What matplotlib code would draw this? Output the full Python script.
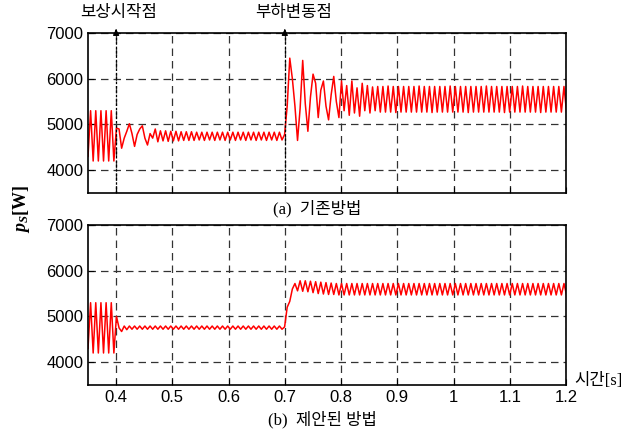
import numpy as np
import matplotlib
matplotlib.use("Agg")
import matplotlib.pyplot as plt

plt.rcParams['font.family'] = ['Liberation Sans', 'Noto Sans CJK KR', 'DejaVu Sans']
plt.rcParams['mathtext.fontset'] = 'custom'
plt.rcParams['mathtext.it'] = 'Liberation Serif:italic:bold'
plt.rcParams['mathtext.rm'] = 'Liberation Serif:bold'

# sample step (half period of the ~108 Hz ripple), start time
t0 = 0.35
dt = 0.0046

# ---- (a) conventional method: p_S [W] ----
before_comp = [4300, 5300, 4200, 5300, 4200, 5300, 4200, 5300, 4200, 5300, 4200]

a_comp_start = [4920, 4900, 4480, 4700, 4850, 5015, 4800, 4520, 4780, 4900,
                4970, 4700, 4550, 4800, 4700, 4900, 4620, 4860, 4640]

a_ripple = [4860, 4630, 4850, 4640, 4850, 4640, 4840, 4650, 4840, 4650,
            4840, 4650, 4830, 4660, 4830, 4650, 4830, 4660, 4830, 4650,
            4830, 4660, 4830, 4650, 4830, 4660, 4830, 4650, 4830, 4660,
            4830, 4650, 4830, 4660, 4830, 4650, 4830, 4660, 4830, 4650,
            4830, 4660, 4830, 4650, 4830, 4660]

a_load_step = [4780, 5400, 6450, 6000, 5400, 4650, 5350, 6400, 5450, 4850,
               5600, 6100, 5900, 5150, 5750, 5950, 5400, 5100, 5650, 6050,
               5500, 5150, 5950, 5300, 5850, 5200, 5950, 5250, 5800, 5180,
               5900, 5300, 5850, 5250, 5820, 5300]

a_steady = [5830, 5270, 5830, 5270, 5840, 5270, 5830, 5260, 5830, 5270,
            5830, 5270, 5830, 5270, 5830, 5270, 5840, 5270, 5830, 5270,
            5830, 5260, 5830, 5270, 5830, 5270, 5830, 5270, 5840, 5270,
            5830, 5270, 5830, 5270, 5830, 5260, 5830, 5270, 5830, 5270,
            5830, 5270, 5840, 5270, 5830, 5270, 5830, 5270, 5830, 5260,
            5830, 5270, 5830, 5270, 5830, 5270, 5840, 5270, 5830, 5270,
            5830, 5270, 5830, 5260, 5830, 5270, 5830, 5270, 5830, 5270,
            5830, 5270, 5830, 5270]

# ---- (b) proposed method: p_S [W] ----
b_comp_start = [5000, 4750, 4670, 4790, 4710, 4790]

b_ripple = [4720, 4790, 4720, 4790, 4720, 4790, 4720, 4790, 4720, 4790,
            4720, 4790, 4720, 4790, 4720, 4790, 4720, 4790, 4720, 4790,
            4720, 4790, 4720, 4790, 4720, 4790, 4720, 4790, 4720, 4790,
            4720, 4790, 4720, 4790, 4720, 4790, 4720, 4790, 4720, 4790,
            4720, 4790, 4720, 4790, 4720, 4790, 4720, 4790, 4720, 4790,
            4720, 4790, 4720, 4790, 4720, 4790, 4720, 4790, 4720]

b_load_step = [4770, 5200, 5330, 5600, 5720, 5560, 5780, 5550, 5780, 5540,
               5770, 5520, 5760, 5500, 5750, 5490, 5740, 5480, 5730, 5480]

b_steady = [5720, 5470, 5720, 5470, 5720, 5470, 5720, 5470, 5720, 5470,
            5720, 5470, 5720, 5470, 5720, 5470, 5720, 5470, 5720, 5470,
            5720, 5470, 5720, 5470, 5720, 5470, 5720, 5470, 5720, 5470,
            5720, 5470, 5720, 5470, 5720, 5470, 5720, 5470, 5720, 5470,
            5720, 5470, 5720, 5470, 5720, 5470, 5720, 5470, 5720, 5470,
            5720, 5470, 5720, 5470, 5720, 5470, 5720, 5470, 5720, 5470,
            5720, 5470, 5720, 5470, 5720, 5470, 5720, 5470, 5720, 5470,
            5720, 5470, 5720, 5470, 5720, 5470, 5720, 5470, 5720, 5470,
            5720, 5470, 5720, 5470, 5720, 5470, 5720, 5470, 5720, 5470]

ps_a = np.array(before_comp + a_comp_start + a_ripple + a_load_step + a_steady)
ps_b = np.array(before_comp + b_comp_start + b_ripple + b_load_step + b_steady)
t_a = t0 + dt * np.arange(len(ps_a))
t_b = t0 + dt * np.arange(len(ps_b))

xticks = [0.4, 0.5, 0.6, 0.7, 0.8, 0.9, 1.0, 1.1, 1.2]
xticklabels = ['0.4', '0.5', '0.6', '0.7', '0.8', '0.9', '1', '1.1', '1.2']
yticks = [4000, 5000, 6000, 7000]
events = [0.4, 0.7]
event_labels = ['보상시작점', '부하변동점']

W, H = 639, 432
fig = plt.figure(figsize=(W / 100, H / 100), dpi=100)
ax1 = fig.add_axes([88 / W, 1 - 193 / H, 478 / W, 160 / H])
ax2 = fig.add_axes([88 / W, 1 - 385 / H, 478 / W, 160 / H])

for ax, t, ps in [(ax1, t_a, ps_a), (ax2, t_b, ps_b)]:
    ax.plot(t, ps, color='#ff0000', lw=1.1)
    ax.set_xlim(0.35, 1.2)
    ax.set_ylim(3500, 7000)
    ax.set_xticks(xticks)
    ax.set_xticklabels(xticklabels)
    ax.set_yticks(yticks)
    ax.grid(True, color='#333333', ls=(0, (6, 4)), lw=0.9)
    ax.tick_params(direction='in', length=4, labelsize=12, color='k')
    for s in ax.spines.values():
        s.set_linewidth(1.2)

ax1.tick_params(labelbottom=False)

# event markers on the upper plot
for x, lab in zip(events, event_labels):
    ax1.plot([x, x], [3500, 7000], color='k', lw=0.9, ls=(0, (2, 1.5)), zorder=3)
    ax1.annotate('', xy=(x, 7150), xytext=(x, 6980), annotation_clip=False,
                 arrowprops=dict(arrowstyle='-|>', color='k', lw=0.9, mutation_scale=9))

fig.text(119 / W, 1 - 13 / H, event_labels[0], ha='center', va='center',
         fontsize=12, family=['Noto Sans CJK KR'])
fig.text(294 / W, 1 - 13 / H, event_labels[1], ha='center', va='center',
         fontsize=12, family=['Noto Sans CJK KR'])

fig.text(317 / W, 1 - 209 / H, '(a)  기존방법', ha='center', va='center',
         fontsize=12, family=['Liberation Serif', 'Noto Sans CJK KR'])
fig.text(322 / W, 1 - 420 / H, '(b)  제안된 방법', ha='center', va='center',
         fontsize=12, family=['Liberation Serif', 'Noto Sans CJK KR'])
fig.text(598 / W, 1 - 381 / H, '시간[s]', ha='center', va='center',
         fontsize=12, family=['Liberation Serif', 'Noto Sans CJK KR'])
fig.text(22 / W, 1 - 209 / H, r'$p_S$[W]', ha='center', va='center', rotation=90,
         fontsize=13, family=['Liberation Serif'], weight='bold')

fig.savefig('out.png', dpi=100)
